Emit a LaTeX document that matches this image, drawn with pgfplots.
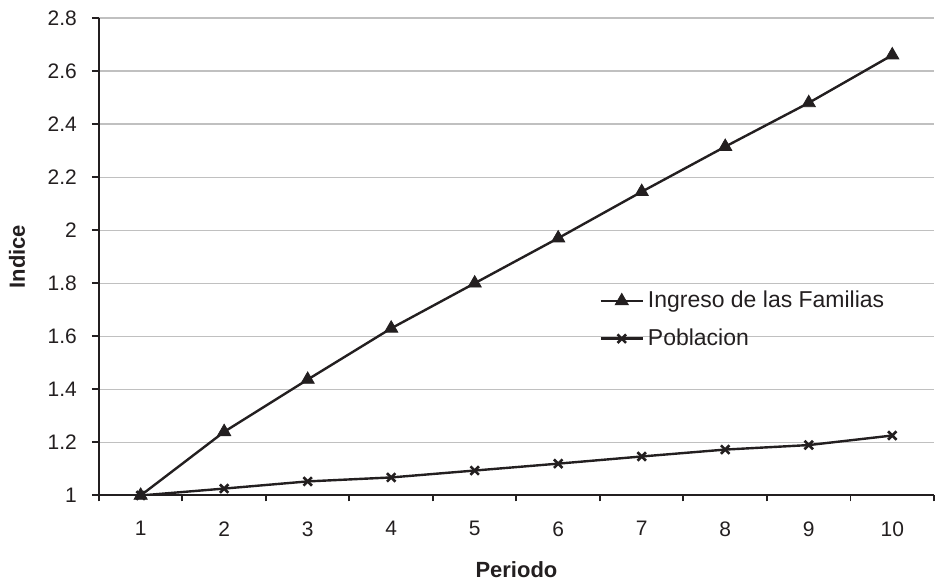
\documentclass[border=0pt]{standalone}
\usepackage{fontspec}
\setmainfont{Liberation Sans}
\usepackage{pgfplots}
\pgfplotsset{compat=1.18}
\definecolor{ink}{HTML}{231F20}
\definecolor{gridc}{HTML}{C0C0C0}
\begin{document}
\begin{tikzpicture}
\begin{axis}[
  scale only axis,
  width=418pt, height=239pt,
  xmin=0.5, xmax=10.5, ymin=1, ymax=2.8,
  axis lines*=left,
  axis line style={ink, line width=1pt},
  xtick={1,...,10},
  minor xtick={0.5,1.5,...,10.5},
  ytick={1,1.2,...,2.8},
  yticklabels={1,1.2,1.4,1.6,1.8,2,2.2,2.4,2.6,2.8},
  ymajorgrids,
  grid style={gridc, line width=0.6pt},
  major grid style={gridc, line width=0.6pt},
  tick align=outside,
  major tick length=3.5pt,
  minor tick length=3pt,
  major x tick style={draw=none},
  tick style={ink, line width=1pt},
  minor tick style={ink, line width=1pt},
  /pgf/number format/assume math mode=true,
  ticklabel style={font=\fontsize{10.5}{12}\selectfont, text=ink},
  xticklabel shift=6pt,
  yticklabel shift=4pt,
  xlabel={\textbf{Periodo}},
  ylabel={\textbf{Indice}},
  every axis x label/.style={at={(axis description cs:0.5,0)}, yshift=-37pt, anchor=center, font=\fontsize{11}{13}\selectfont, text=ink},
  every axis y label/.style={at={(axis description cs:0,0.5)}, xshift=-41pt, rotate=90, anchor=center, font=\fontsize{11}{13}\selectfont, text=ink},
  legend style={draw=none, fill=none, at={(axis description cs:0.599,0.437)}, anchor=north west, font=\fontsize{11.5}{13}\selectfont, text=ink, row sep=5pt, legend cell align=left, inner sep=0pt},
  legend image code/.code={
    \draw[#1, mark repeat=2, mark phase=2] plot coordinates {(0cm,0cm) (0.37cm,0cm) (0.74cm,0cm)};
  },
]
\addplot[ink, line width=1.2pt, mark=triangle*, mark size=3.8pt, mark options={ink, fill=ink, solid, line width=0.4pt}] coordinates {
(1,1.00) (2,1.24) (3,1.437) (4,1.63) (5,1.80) (6,1.97) (7,2.145) (8,2.315) (9,2.48) (10,2.66)
};
\addlegendentry{Ingreso de las Familias}
\addplot[ink, line width=1.2pt, mark=x, mark size=3pt, mark options={ink, solid, line width=1.3pt}] coordinates {
(1,1.00) (2,1.026) (3,1.053) (4,1.068) (5,1.094) (6,1.12) (7,1.147) (8,1.173) (9,1.19) (10,1.226)
};
\addlegendentry{Poblacion}
\end{axis}
\path (current axis.south west) ++(-49.5pt,-42.5pt) coordinate (bbA);
\path (current axis.north east) ++(0pt,9pt) coordinate (bbB);
\useasboundingbox (bbA) rectangle (bbB);
\end{tikzpicture}
\end{document}
